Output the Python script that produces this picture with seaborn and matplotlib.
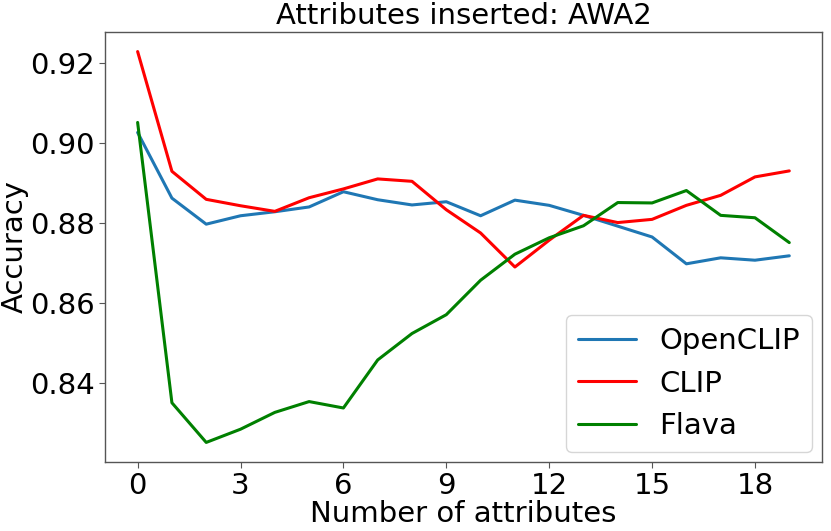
import pandas as pd
import matplotlib
matplotlib.use('Agg')
import matplotlib.pyplot as plt
import seaborn as sns

# accuracy vs number of inserted attributes (AWA2)
n_attributes = list(range(20))
openclip_acc = [0.9026, 0.8862, 0.8797, 0.8818, 0.8828, 0.8840, 0.8878, 0.8858, 0.8845, 0.8853,
                0.8818, 0.8857, 0.8844, 0.8819, 0.8792, 0.8765, 0.8698, 0.8713, 0.8707, 0.8718]
clip_acc = [0.9228, 0.8929, 0.8859, 0.8843, 0.8829, 0.8863, 0.8885, 0.8910, 0.8904, 0.8833,
            0.8775, 0.8690, 0.8757, 0.8819, 0.8801, 0.8809, 0.8844, 0.8869, 0.8915, 0.8930]
flava_acc = [0.9051, 0.8351, 0.8252, 0.8285, 0.8327, 0.8354, 0.8338, 0.8458, 0.8524, 0.8571,
             0.8657, 0.8722, 0.8763, 0.8793, 0.8851, 0.8850, 0.8881, 0.8819, 0.8813, 0.8751]

models = ['OpenCLIP', 'CLIP', 'Flava']
colors = ['#1f77b4', 'red', 'green']

df = pd.DataFrame({
    'Number of attributes': n_attributes * 3,
    'Accuracy': openclip_acc + clip_acc + flava_acc,
    'Model': [m for m in models for _ in n_attributes],
})

sns.set_style('ticks', {'text.color': 'black', 'axes.labelcolor': 'black',
                        'xtick.color': '#555555', 'ytick.color': '#555555'})
plt.rcParams['font.family'] = ['DejaVu Sans']
plt.rcParams['font.size'] = 21

fig, ax = plt.subplots(figsize=(8.31, 5.31), dpi=100)
fig.subplots_adjust(left=0.1264, right=0.989, bottom=0.130, top=0.9397)

sns.lineplot(data=df, x='Number of attributes', y='Accuracy', hue='Model',
             hue_order=models, palette=colors, linewidth=2.2, ax=ax)

ax.set_xticks(range(0, 19, 3))
ax.set_yticks([0.84, 0.86, 0.88, 0.90, 0.92])
ax.tick_params(labelsize=21, length=4, labelcolor='black')
ax.set_xlabel('Number of attributes', fontsize=21, labelpad=0)
ax.set_ylabel('Accuracy', fontsize=21, labelpad=1)
ax.set_title('Attributes inserted: AWA2', fontsize=21, color='black')
for s in ax.spines.values():
    s.set_color('#555555')
    s.set_linewidth(1.0)

handles, labels = ax.get_legend_handles_labels()
leg = ax.legend(handles, labels, loc='lower right', fontsize=21, frameon=True,
                borderaxespad=0.35)
for t in leg.get_texts():
    t.set_color('black')

plt.savefig('out.png', dpi=100)
